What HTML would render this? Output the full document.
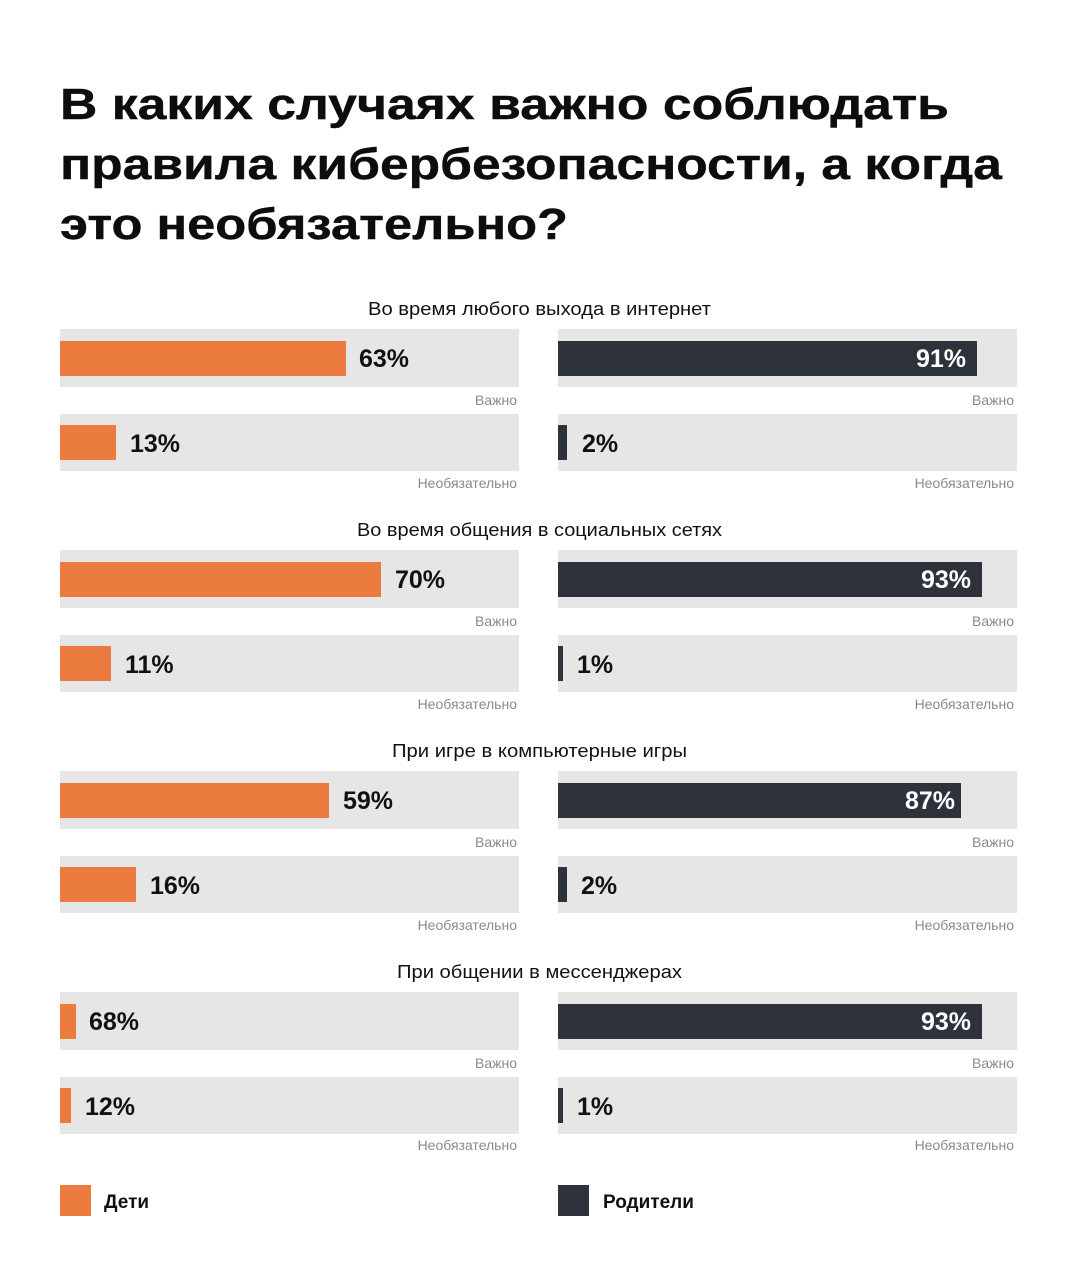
<!DOCTYPE html>
<html><head><meta charset="utf-8"><style>
html,body{margin:0;padding:0;background:#fff;}
svg{display:block;}
text{font-family:"Liberation Sans","Noto Sans CJK SC",sans-serif;}
.t{font-weight:bold;font-size:44px;fill:#0d0d0d;stroke:#0d0d0d;stroke-width:0.4px;}
.st{font-size:18px;fill:#111;}
.p{font-weight:bold;font-size:25px;fill:#111;}
.pw{font-weight:bold;font-size:25px;fill:#fff;}
.s{font-size:14px;fill:#8a8a8a;}
.lg{font-weight:bold;font-size:19px;fill:#111;}
</style></head><body>
<svg width="1077" height="1280" viewBox="0 0 1077 1280" xmlns="http://www.w3.org/2000/svg">
<rect width="1077" height="1280" fill="#fff"/>
<text class="t" x="60" y="119" textLength="889" lengthAdjust="spacingAndGlyphs">В каких случаях важно соблюдать</text>
<text class="t" x="60" y="179" textLength="942" lengthAdjust="spacingAndGlyphs">правила кибербезопасности, а когда</text>
<text class="t" x="60" y="239" textLength="508" lengthAdjust="spacingAndGlyphs">это необязательно?</text>

<!-- Section 1 -->
<text class="st" x="539.5" y="315" text-anchor="middle" textLength="343" lengthAdjust="spacingAndGlyphs">Во время любого выхода в интернет</text>
<rect x="60" y="329" width="459" height="58" fill="#e6e6e6"/>
<rect x="558" y="329" width="459" height="58" fill="#e6e6e6"/>
<rect x="60" y="341" width="286" height="35" fill="#ec7b3f"/>
<rect x="558" y="341" width="419" height="35" fill="#2d323b"/>
<text class="p" x="359" y="367">63%</text>
<text class="pw" x="966" y="367" text-anchor="end">91%</text>
<text class="s" x="517" y="405" text-anchor="end">Важно</text>
<text class="s" x="1014" y="405" text-anchor="end">Важно</text>
<rect x="60" y="414" width="459" height="57" fill="#e6e6e6"/>
<rect x="558" y="414" width="459" height="57" fill="#e6e6e6"/>
<rect x="60" y="425" width="56" height="35" fill="#ec7b3f"/>
<rect x="558" y="425" width="9" height="35" fill="#2d323b"/>
<text class="p" x="130" y="452">13%</text>
<text class="p" x="582" y="452">2%</text>
<text class="s" x="517" y="488" text-anchor="end">Необязательно</text>
<text class="s" x="1014" y="488" text-anchor="end">Необязательно</text>

<!-- Section 2 -->
<text class="st" x="539.5" y="536" text-anchor="middle" textLength="365" lengthAdjust="spacingAndGlyphs">Во время общения в социальных сетях</text>
<rect x="60" y="550" width="459" height="58" fill="#e6e6e6"/>
<rect x="558" y="550" width="459" height="58" fill="#e6e6e6"/>
<rect x="60" y="562" width="321" height="35" fill="#ec7b3f"/>
<rect x="558" y="562" width="424" height="35" fill="#2d323b"/>
<text class="p" x="395" y="588">70%</text>
<text class="pw" x="971" y="588" text-anchor="end">93%</text>
<text class="s" x="517" y="626" text-anchor="end">Важно</text>
<text class="s" x="1014" y="626" text-anchor="end">Важно</text>
<rect x="60" y="635" width="459" height="57" fill="#e6e6e6"/>
<rect x="558" y="635" width="459" height="57" fill="#e6e6e6"/>
<rect x="60" y="646" width="51" height="35" fill="#ec7b3f"/>
<rect x="558" y="646" width="5" height="35" fill="#2d323b"/>
<text class="p" x="125" y="673">11%</text>
<text class="p" x="577" y="673">1%</text>
<text class="s" x="517" y="709" text-anchor="end">Необязательно</text>
<text class="s" x="1014" y="709" text-anchor="end">Необязательно</text>

<!-- Section 3 -->
<text class="st" x="539.5" y="757" text-anchor="middle" textLength="295" lengthAdjust="spacingAndGlyphs">При игре в компьютерные игры</text>
<rect x="60" y="771" width="459" height="58" fill="#e6e6e6"/>
<rect x="558" y="771" width="459" height="58" fill="#e6e6e6"/>
<rect x="60" y="783" width="269" height="35" fill="#ec7b3f"/>
<rect x="558" y="783" width="403" height="35" fill="#2d323b"/>
<text class="p" x="343" y="809">59%</text>
<text class="pw" x="955" y="809" text-anchor="end">87%</text>
<text class="s" x="517" y="847" text-anchor="end">Важно</text>
<text class="s" x="1014" y="847" text-anchor="end">Важно</text>
<rect x="60" y="856" width="459" height="57" fill="#e6e6e6"/>
<rect x="558" y="856" width="459" height="57" fill="#e6e6e6"/>
<rect x="60" y="867" width="76" height="35" fill="#ec7b3f"/>
<rect x="558" y="867" width="9" height="35" fill="#2d323b"/>
<text class="p" x="150" y="894">16%</text>
<text class="p" x="581" y="894">2%</text>
<text class="s" x="517" y="930" text-anchor="end">Необязательно</text>
<text class="s" x="1014" y="930" text-anchor="end">Необязательно</text>

<!-- Section 4 -->
<text class="st" x="539.5" y="978" text-anchor="middle" textLength="285" lengthAdjust="spacingAndGlyphs">При общении в мессенджерах</text>
<rect x="60" y="992" width="459" height="58" fill="#e6e6e6"/>
<rect x="558" y="992" width="459" height="58" fill="#e6e6e6"/>
<rect x="60" y="1004" width="16" height="35" fill="#ec7b3f"/>
<rect x="558" y="1004" width="424" height="35" fill="#2d323b"/>
<text class="p" x="89" y="1030">68%</text>
<text class="pw" x="971" y="1030" text-anchor="end">93%</text>
<text class="s" x="517" y="1068" text-anchor="end">Важно</text>
<text class="s" x="1014" y="1068" text-anchor="end">Важно</text>
<rect x="60" y="1077" width="459" height="57" fill="#e6e6e6"/>
<rect x="558" y="1077" width="459" height="57" fill="#e6e6e6"/>
<rect x="60" y="1088" width="11" height="35" fill="#ec7b3f"/>
<rect x="558" y="1088" width="5" height="35" fill="#2d323b"/>
<text class="p" x="85" y="1115">12%</text>
<text class="p" x="577" y="1115">1%</text>
<text class="s" x="517" y="1150" text-anchor="end">Необязательно</text>
<text class="s" x="1014" y="1150" text-anchor="end">Необязательно</text>

<!-- Legend -->
<rect x="60" y="1185" width="31" height="31" fill="#ec7b3f"/>
<text class="lg" x="104" y="1208">Дети</text>
<rect x="558" y="1185" width="31" height="31" fill="#2d323b"/>
<text class="lg" x="603" y="1208">Родители</text>
</svg>
</body></html>
